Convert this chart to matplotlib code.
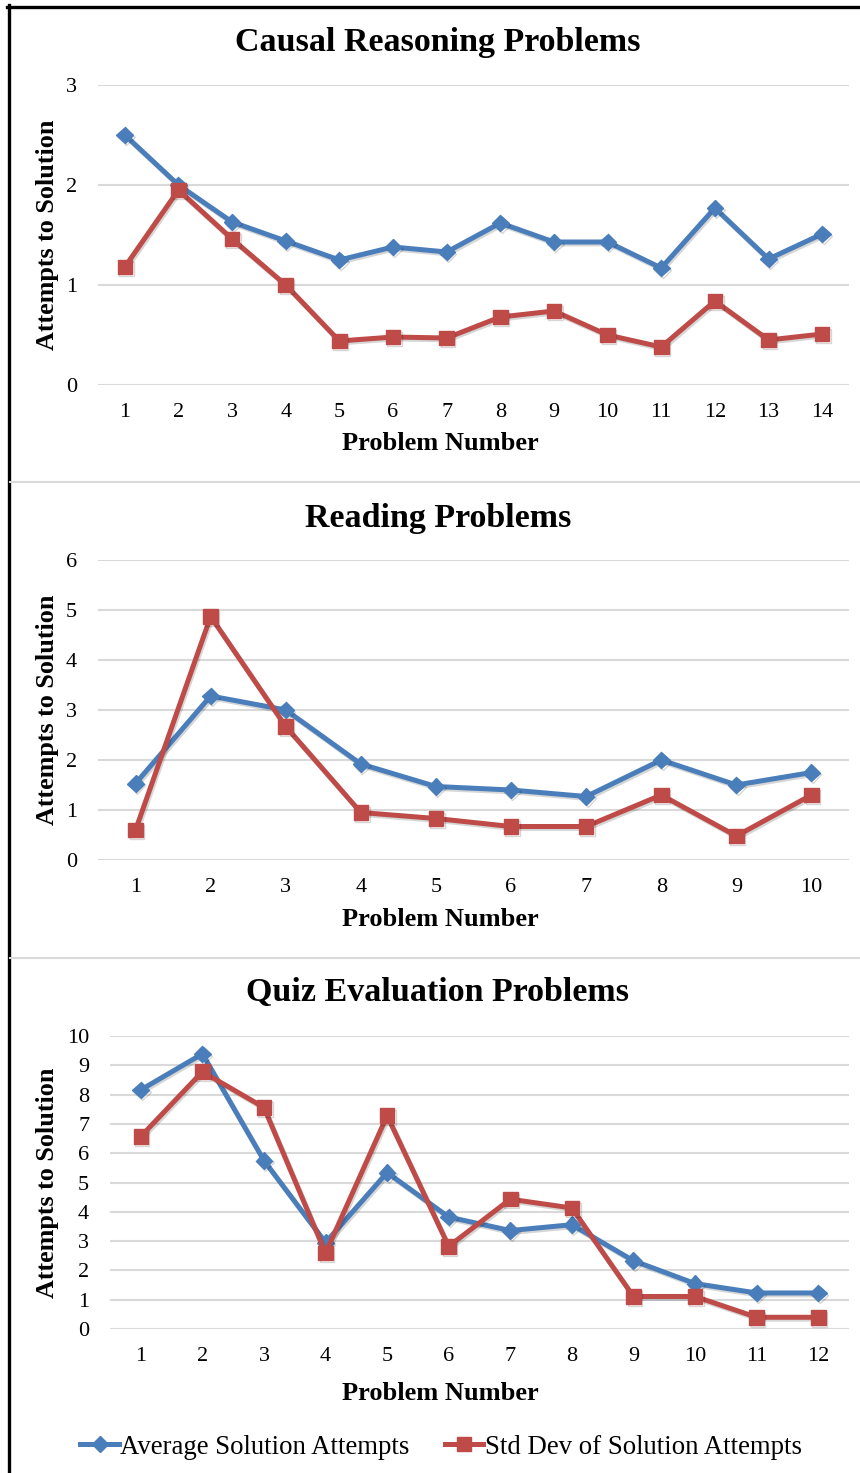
import matplotlib
matplotlib.use("Agg")
import matplotlib.pyplot as plt
from matplotlib.lines import Line2D
import matplotlib.patheffects as pe

# ---- data ----
causal_avg = [2.50, 2.00, 1.63, 1.44, 1.25, 1.38, 1.33, 1.62, 1.43, 1.43, 1.17, 1.77, 1.26, 1.51]
causal_sd = [1.18, 1.95, 1.46, 1.00, 0.44, 0.48, 0.47, 0.68, 0.74, 0.50, 0.38, 0.84, 0.45, 0.51]

reading_avg = [1.53, 3.28, 3.00, 1.92, 1.47, 1.40, 1.27, 2.00, 1.50, 1.75]
reading_sd = [0.60, 4.87, 2.67, 0.95, 0.83, 0.67, 0.67, 1.30, 0.48, 1.30]

quiz_avg = [8.16, 9.39, 5.75, 2.95, 5.34, 3.82, 3.36, 3.56, 2.33, 1.55, 1.23, 1.23]
quiz_sd = [6.57, 8.78, 7.56, 2.59, 7.28, 2.82, 4.43, 4.13, 1.11, 1.11, 0.40, 0.40]

titles = ["Causal Reasoning Problems", "Reading Problems", "Quiz Evaluation Problems"]
y_max = [3, 6, 10]
series_names = ["Average Solution Attempts", "Std Dev of Solution Attempts"]

# ---- style ----
W, H = 860, 1473
BLUE = "#4A7EBB"
RED = "#BE4B48"
GRID = "#D9D9D9"
FONT = "Liberation Serif"
plt.rcParams["font.family"] = FONT

fig = plt.figure(figsize=(W / 100, H / 100), dpi=100)


def px_axes(left, top, right, bottom):
    """Create axes from pixel bounds (origin top-left)."""
    return fig.add_axes([left / W, 1 - bottom / H, (right - left) / W, (bottom - top) / H])


shadow = [pe.SimpleLineShadow(offset=(1.0, -1.4), shadow_color="black", alpha=0.16, rho=1),
          pe.Normal()]

# (avg, sd, axes pixel box, title centre y, x-label centre y)
panels = [
    (causal_avg, causal_sd, (98, 85, 849, 385), 42, 443),
    (reading_avg, reading_sd, (98, 560, 849, 860), 518, 919),
    (quiz_avg, quiz_sd, (110, 1036, 849, 1329), 993, 1393),
]

for (avg, sd, box, title_y, xlab_y), title, ym in zip(panels, titles, y_max):
    ax = px_axes(*box)
    left, top, right, bottom = box
    x = list(range(1, len(avg) + 1))
    ax.plot(x, avg, color=BLUE, lw=3.6, marker="D", ms=8.5,
            path_effects=shadow, zorder=3, label=series_names[0])
    ax.plot(x, sd, color=RED, lw=3.6, marker="s", ms=10.5,
            path_effects=shadow, zorder=3, label=series_names[1])
    ax.set_xlim(0.5, len(avg) + 0.5)
    ax.set_ylim(0, ym)
    ax.set_xticks(x)
    ax.set_yticks(range(0, ym + 1))
    ax.grid(axis="y", color=GRID, lw=1.5)
    ax.set_axisbelow(True)
    for s in ax.spines.values():
        s.set_visible(False)
    ax.tick_params(length=0, labelsize=16, pad=13)
    ax.tick_params(axis="y", pad=15)
    ax.set_xlabel("Problem Number", fontsize=19, fontweight="bold")
    ax.xaxis.set_label_coords((440 - left) / (right - left),
                              (bottom - xlab_y) / (bottom - top))
    ax.xaxis.label.set_verticalalignment("center")
    ax.set_ylabel("Attempts to Solution", fontsize=18.8, fontweight="bold")
    ax.yaxis.set_label_coords((48 - left) / (right - left), 0.5)
    ax.yaxis.label.set_verticalalignment("center")
    fig.text(438 / W, 1 - title_y / H, title, ha="center", va="center",
             fontsize=24.5, fontweight="bold")

# legend
fig.legend(handles=[Line2D([], [], color=BLUE, lw=3.6, marker="D", ms=8.5),
                    Line2D([], [], color=RED, lw=3.6, marker="s", ms=10.5)],
           labels=series_names, loc="center", ncol=2,
           bbox_to_anchor=(441 / W, 1 - 1447 / H), frameon=False,
           fontsize=19.3, handlelength=1.45, handletextpad=0.05, columnspacing=1.3)

# outer frame and panel separators
fig.add_artist(Line2D([7 / W, 1], [1 - 6.5 / H] * 2, color="black", lw=2.4,
                      transform=fig.transFigure))
fig.add_artist(Line2D([8.5 / W] * 2, [1 - 5 / H, 0], color="black", lw=2.4,
                      transform=fig.transFigure))
for yy in (482, 958):
    fig.add_artist(Line2D([10 / W, 1], [1 - yy / H] * 2, color=GRID, lw=1.5,
                          transform=fig.transFigure))

fig.savefig("out.png", dpi=100, facecolor="white")
